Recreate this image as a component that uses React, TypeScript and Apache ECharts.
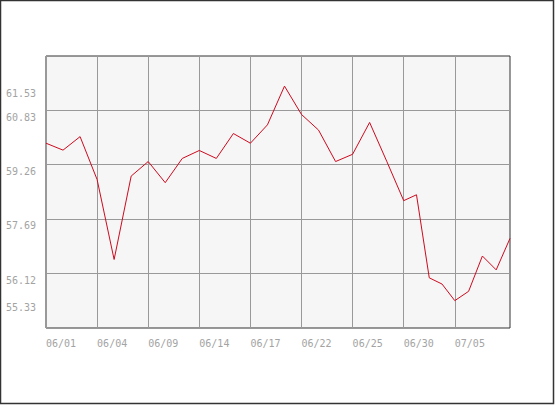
import React, { useEffect, useRef } from "react";
import * as echarts from "echarts";

// x tick labels (one per vertical grid line)
const tickLabels = ["06/01", "06/04", "06/09", "06/14", "06/17", "06/22", "06/25", "06/30", "07/05"];

// dates of each data point
const dates = [
  "06/01", "06/02", "06/03", "06/04", "06/07", "06/08", "06/09", "06/10", "06/11", "06/14",
  "06/15", "06/16", "06/17", "06/18", "06/21", "06/22", "06/23", "06/24", "06/25", "06/28",
  "06/29", "06/30", "07/01", "07/02", "07/03", "07/05", "07/06", "07/07", "07/08", "07/09",
];

// position of each point along the x axis, in tick-label units
const xPos = [
  0, 0.333, 0.667, 1, 1.333, 1.667, 2, 2.333, 2.667, 3,
  3.333, 3.667, 4, 4.333, 4.667, 5, 5.333, 5.667, 6, 6.333,
  6.667, 7, 7.25, 7.5, 7.75, 8, 8.27, 8.54, 8.81, 9.08,
];

// series values
const values = [
  59.88, 59.68, 60.07, 58.83, 56.52, 58.93, 59.35, 58.74, 59.44, 59.67,
  59.44, 60.16, 59.88, 60.41, 61.53, 60.71, 60.26, 59.35, 59.56, 60.48,
  59.36, 58.22, 58.39, 55.99, 55.81, 55.33, 55.6, 56.62, 56.22, 57.13,
];

// y axis labels and grid lines
const yLabels = [55.33, 56.12, 57.69, 59.26, 60.83, 61.53];
const yGrid = [56.12, 57.69, 59.26, 60.83];
const yMin = 54.54;
const yMax = 62.4;
const xMax = 9.08;

export default function App() {
  const ref = useRef<HTMLDivElement>(null);

  useEffect(() => {
    if (!ref.current) return;
    const chart = echarts.init(ref.current, undefined, { renderer: "svg" });
    const labelFont = {
      fontFamily: "DejaVu Sans Mono",
      fontSize: 10,
      color: "#a3a3a3",
    };
    chart.setOption({
      animation: false,
      backgroundColor: "#ffffff",
      graphic: [
        {
          type: "rect",
          shape: { x: 0.5, y: 0.5, width: 553, height: 403 },
          style: { fill: "none", stroke: "#333333", lineWidth: 1.5 },
          silent: true,
          z: 100,
        },
      ],
      grid: {
        left: 46,
        right: 45,
        top: 56,
        bottom: 77,
        show: true,
        backgroundColor: "#f6f6f6",
        borderColor: "#333333",
        borderWidth: 1,
      },
      xAxis: {
        type: "value",
        min: 0,
        max: xMax,
        axisLine: { show: false },
        axisTick: { show: false, customValues: tickLabels.map((_, i) => i) },
        splitLine: { show: true, lineStyle: { color: "#999999", width: 1 } },
        axisLabel: {
          ...labelFont,
          customValues: tickLabels.map((_, i) => i),
          formatter: (v: number) => tickLabels[Math.round(v)] ?? "",
          align: "left",
          margin: 10,
        },
      },
      yAxis: {
        type: "value",
        min: yMin,
        max: yMax,
        axisLine: { show: false },
        axisTick: { show: false, customValues: yGrid },
        splitLine: { show: true, lineStyle: { color: "#999999", width: 1 } },
        axisLabel: {
          ...labelFont,
          customValues: yLabels,
          formatter: (v: number) => v.toFixed(2),
          verticalAlign: "top",
          lineHeight: 14,
          margin: 10,
        },
      },
      series: [
        {
          type: "line",
          data: xPos.map((x, i) => [x, values[i], dates[i]]),
          showSymbol: false,
          symbol: "none",
          lineStyle: { color: "#cc0a1e", width: 1 },
          itemStyle: { color: "#cc0a1e" },
        },
      ],
    });
    return () => chart.dispose();
  }, []);

  return (
    <div
      ref={ref}
      style={{ position: "absolute", left: 0, top: 0, width: 555, height: 405 }}
    />
  );
}
